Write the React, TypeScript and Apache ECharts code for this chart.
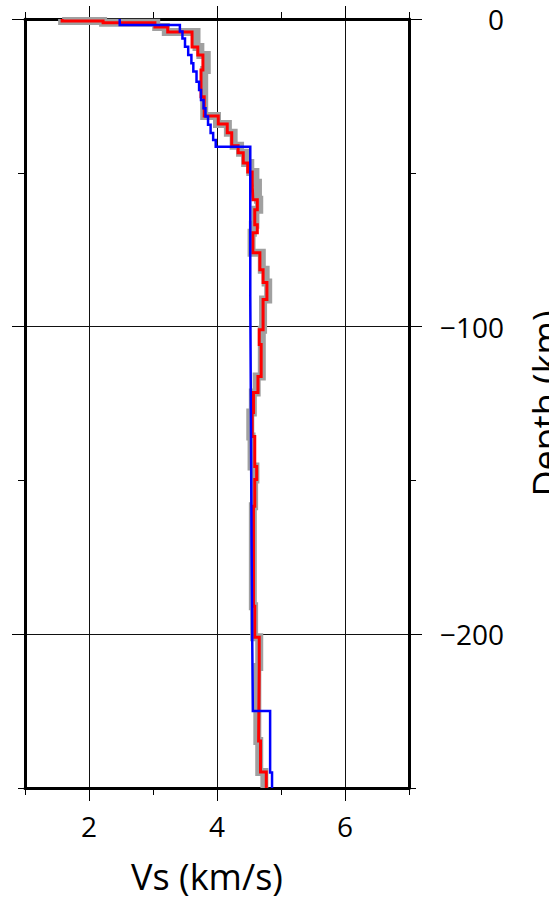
import React, { useEffect, useRef } from "react";
import * as echarts from "echarts";

// ---- data ----
const X_MIN = 1;
const X_MAX = 7;
const Y_MIN = -250;
const Y_MAX = 0;
const xLabelValues = [2, 4, 6];
const yLabelValues = [0, -100, -200];

// red model: layer tops (km) and Vs (km/s)
const redTops = [0, -0.65, -1.2, -2.6, -4.2, -9.1, -11.7, -16.6, -25.3, -31.5, -34.1, -37.0, -41.2, -43.5, -46.8, -49.7, -53.2, -58.8, -62.0, -66.9, -69.5, -76.0, -81.5, -85.7, -91.2, -101, -105.8, -116.2, -121.4, -127.9, -135.7, -145.5, -149.7, -158.4, -165.9, -190.9, -201, -210.7, -234.7, -244.8];
const redVs = [1.58, 2.22, 3.03, 3.23, 3.61, 3.70, 3.78, 3.75, 3.80, 4.02, 4.16, 4.23, 4.33, 4.41, 4.48, 4.55, 4.56, 4.63, 4.59, 4.63, 4.56, 4.67, 4.72, 4.78, 4.72, 4.66, 4.69, 4.64, 4.57, 4.55, 4.59, 4.62, 4.59, 4.57, 4.57, 4.59, 4.66, 4.65, 4.68, 4.77];

// gray ensemble (same layering)
const grayVs = [1.58, 2.22, 3.05, 3.20, 3.68, 3.74, 3.84, 3.80, 3.80, 4.00, 4.17, 4.26, 4.36, 4.44, 4.52, 4.60, 4.64, 4.66, 4.60, 4.56, 4.54, 4.70, 4.76, 4.80, 4.72, 4.70, 4.70, 4.62, 4.56, 4.52, 4.54, 4.60, 4.58, 4.56, 4.56, 4.58, 4.66, 4.63, 4.66, 4.74];

// blue reference model
const blueTops = [0, -1.95, -4.1, -6.3, -9.0, -11.7, -14.4, -17.1, -20.4, -23.1, -26.3, -29.0, -31.7, -34.4, -37.1, -39.3, -41.5, -90, -130, -170, -200, -225, -245];
const blueVs = [2.48, 3.42, 3.46, 3.50, 3.55, 3.60, 3.63, 3.68, 3.72, 3.75, 3.79, 3.82, 3.86, 3.90, 3.94, 3.98, 4.52, 4.53, 4.54, 4.55, 4.56, 4.83, 4.86];

const FONT = "Open Sans";

function stepPoints(tops: number[], vs: number[], bottom: number) {
  const pts: number[][] = [];
  for (let i = 0; i < tops.length; i++) {
    const b = i + 1 < tops.length ? tops[i + 1] : bottom;
    pts.push([vs[i], tops[i]]);
    pts.push([vs[i], b]);
  }
  return pts;
}

const fmtDepth = (v: number) => (v === 0 ? "0" : (v < 0 ? "\u2212" : "") + Math.abs(v));

export default function App() {
  const ref = useRef<HTMLDivElement>(null);
  useEffect(() => {
    if (!ref.current) return;
    const chart = echarts.init(ref.current, null, { renderer: "svg" });
    const black = "#000";
    const xBase = { type: "value", min: X_MIN, max: X_MAX, interval: 1 };
    const yBase = { type: "value", min: Y_MIN, max: Y_MAX };
    const frame = { show: true, onZero: false, lineStyle: { color: black, width: 3 } };
    const noLine = { show: false, onZero: false };
    const tickStyle = { color: black, width: 1 };
    chart.setOption({
      animation: false,
      backgroundColor: "#fff",
      grid: { left: 25, right: 140, top: 19, bottom: 122, containLabel: false, outerBoundsMode: "none" },
      xAxis: [
        {
          ...xBase,
          position: "bottom",
          axisLine: frame,
          axisTick: { show: true, length: 13, customValues: xLabelValues, lineStyle: tickStyle },
          axisLabel: { show: true, customValues: xLabelValues, fontSize: 28, fontFamily: FONT, color: black, margin: 24 },
          splitLine: { show: true, lineStyle: { color: "#111", width: 1 } },
          name: "Vs (km/s)",
          nameLocation: "middle",
          nameGap: 70,
          nameTextStyle: { fontSize: 36, fontFamily: FONT, color: black, padding: [0, 20, 0, 0] },
        },
        {
          ...xBase,
          position: "bottom",
          axisLine: noLine,
          axisTick: { show: true, length: 7, lineStyle: tickStyle },
          axisLabel: { show: false },
          splitLine: { show: false },
        },
        {
          ...xBase,
          position: "top",
          axisLine: frame,
          axisTick: { show: true, length: 13, customValues: xLabelValues, lineStyle: tickStyle },
          axisLabel: { show: false },
          splitLine: { show: false },
        },
        {
          ...xBase,
          position: "top",
          axisLine: noLine,
          axisTick: { show: true, length: 7, lineStyle: tickStyle },
          axisLabel: { show: false },
          splitLine: { show: false },
        },
      ],
      yAxis: [
        {
          ...yBase,
          interval: 25,
          position: "right",
          axisLine: frame,
          axisTick: { show: true, length: 13, customValues: yLabelValues, lineStyle: tickStyle },
          axisLabel: {
            show: true,
            customValues: yLabelValues,
            formatter: fmtDepth,
            fontSize: 28,
            fontFamily: FONT,
            color: black,
            align: "right",
            margin: 95,
          },
          splitLine: { show: true, lineStyle: { color: "#111", width: 1 } },
          name: "Depth (km)",
          nameLocation: "middle",
          nameGap: 118,
          nameTextStyle: { fontSize: 36, fontFamily: FONT, color: black },
        },
        {
          ...yBase,
          interval: 50,
          position: "right",
          axisLine: noLine,
          axisTick: { show: true, length: 7, lineStyle: tickStyle },
          axisLabel: { show: false },
          splitLine: { show: false },
        },
        {
          ...yBase,
          interval: 25,
          position: "left",
          axisLine: frame,
          axisTick: { show: true, length: 13, customValues: yLabelValues, lineStyle: tickStyle },
          axisLabel: { show: false },
          splitLine: { show: false },
        },
        {
          ...yBase,
          interval: 50,
          position: "left",
          axisLine: noLine,
          axisTick: { show: true, length: 7, lineStyle: tickStyle },
          axisLabel: { show: false },
          splitLine: { show: false },
        },
      ],
      series: [
        {
          type: "line",
          name: "ensemble",
          xAxisIndex: 0,
          yAxisIndex: 0,
          data: stepPoints(redTops, grayVs, Y_MIN),
          showSymbol: false,
          symbol: "none",
          lineStyle: { color: "#a0a0a0", width: 8, cap: "butt", join: "miter" },
          z: 2,
        },
        {
          type: "line",
          name: "model",
          xAxisIndex: 0,
          yAxisIndex: 0,
          data: stepPoints(redTops, redVs, Y_MIN),
          showSymbol: false,
          symbol: "none",
          lineStyle: { color: "#ff0000", width: 3, join: "miter" },
          z: 3,
        },
        {
          type: "line",
          name: "reference",
          xAxisIndex: 0,
          yAxisIndex: 0,
          data: stepPoints(blueTops, blueVs, Y_MIN),
          showSymbol: false,
          symbol: "none",
          lineStyle: { color: "#0000ff", width: 2.5, join: "miter" },
          z: 4,
        },
      ],
    });
    return () => chart.dispose();
  }, []);
  return (
    <div
      ref={ref}
      style={{ position: "absolute", left: 0, top: 0, width: 549, height: 910, background: "#fff" }}
    />
  );
}
